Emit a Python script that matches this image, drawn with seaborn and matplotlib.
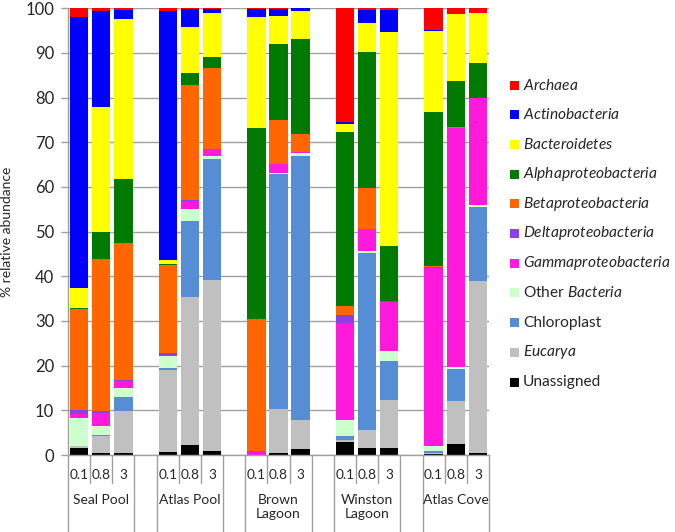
import numpy as np
import pandas as pd
import matplotlib
matplotlib.use("Agg")
import matplotlib.pyplot as plt
import matplotlib.transforms as mtrans
from matplotlib.patches import Rectangle
import seaborn as sns

sns.set_style("white")
plt.rcParams['font.family'] = ['Lato', 'DejaVu Sans']
plt.rcParams['mathtext.fontset'] = 'custom'
plt.rcParams['mathtext.it'] = 'Lato:italic'
plt.rcParams['mathtext.rm'] = 'Lato'

sites = ["Seal Pool", "Atlas Pool", "Brown\nLagoon", "Winston\nLagoon", "Atlas Cove"]
fractions = ["0.1", "0.8", "3"]

# segment values (% relative abundance), 15 bars: site x fraction
unassigned   = [1.5, 0.4, 0.4,  0.6, 2.2, 0.8,  0.0, 0.4, 1.3,  3.0, 1.5, 1.5,  0.2, 2.5, 0.4]
eucarya      = [0.6, 3.8, 9.4,  18.5, 33.2, 38.3,  0.0, 9.9, 6.5,  0.4, 4.1, 10.9,  0.2, 9.5, 38.5]
chloroplast  = [0.0, 0.3, 3.1,  0.3, 16.9, 27.2,  0.0, 52.5, 59.2,  0.9, 39.7, 8.7,  0.4, 7.2, 16.6]
other_bact   = [6.1, 2.1, 2.1,  2.8, 2.7, 0.7,  0.0, 0.3, 0.5,  3.5, 0.3, 2.2,  1.3, 0.6, 0.4]
gamma        = [1.0, 2.9, 1.5,  0.0, 1.8, 1.4,  0.8, 2.1, 0.3,  21.8, 4.9, 11.0,  39.8, 53.4, 24.1]
delta        = [0.9, 0.3, 0.3,  0.6, 0.2, 0.1,  0.0, 0.0, 0.0,  1.8, 0.0, 0.2,  0.1, 0.0, 0.0]
beta         = [22.5, 34.1, 30.7,  19.7, 25.8, 18.2,  29.6, 9.9, 4.0,  2.0, 9.3, 0.0,  0.3, 0.2, 0.0]
alpha        = [0.2, 6.1, 14.2,  0.2, 2.7, 2.4,  42.8, 16.9, 21.4,  38.9, 30.4, 12.3,  34.4, 10.4, 7.7]
bacteroid    = [4.6, 28.0, 35.8,  0.9, 10.4, 9.8,  24.9, 6.3, 6.3,  1.9, 6.6, 47.8,  18.3, 14.9, 11.3]
actino       = [60.7, 21.3, 2.1,  55.7, 4.0, 1.0,  1.8, 1.5, 0.5,  0.3, 2.8, 5.0,  0.1, 0.1, 0.0]
archaea      = [1.9, 0.7, 0.4,  0.7, 0.1, 0.1,  0.1, 0.2, 0.0,  25.5, 0.4, 0.4,  5.1, 1.2, 1.0]

# bottom -> top
layers = [
    ("Unassigned", unassigned, "#000000"),
    ("Eucarya", eucarya, "#C0C0C0"),
    ("Chloroplast", chloroplast, "#558ED5"),
    ("Other Bacteria", other_bact, "#CCFFCC"),
    ("Gammaproteobacteria", gamma, "#FF19DA"),
    ("Deltaproteobacteria", delta, "#8E3FE0"),
    ("Betaproteobacteria", beta, "#FF6600"),
    ("Alphaproteobacteria", alpha, "#007A00"),
    ("Bacteroidetes", bacteroid, "#FFFF00"),
    ("Actinobacteria", actino, "#0000FF"),
    ("Archaea", archaea, "#FF0000"),
]

positions = [g * 4 + k for g in range(len(sites)) for k in range(3)]
df = pd.DataFrame({name: vals for name, vals, _ in layers})
df["pos"] = positions
cum = df[[n for n, _, _ in layers]].cumsum(axis=1)

W, H = 675, 532
fig = plt.figure(figsize=(W / 100, H / 100), dpi=100)
ax = fig.add_axes([68 / W, 1 - 455 / H, (489 - 68) / W, (455 - 8.3) / H])

for name, _, color in reversed(layers):
    sns.barplot(x=df["pos"], y=cum[name], native_scale=True, width=0.83,
                color=color, saturation=1, linewidth=0, errorbar=None, ax=ax)

gray = "#A0A0A0"
ax.set_xlim(-0.5, 18.5)
ax.set_ylim(0, 100)
ax.set_yticks(range(0, 101, 10))
ax.set_xticks([])
ax.set_xlabel("")
ax.set_ylabel("% relative abundance", fontsize=10, labelpad=9)
ax.yaxis.grid(True, color=gray, linewidth=1.0)
ax.set_axisbelow(True)
for s in ["top", "right"]:
    ax.spines[s].set_visible(False)
for s in ["left", "bottom"]:
    ax.spines[s].set_color(gray)
    ax.spines[s].set_linewidth(1.0)
ax.tick_params(axis="y", direction="out", length=5, width=1.0, color=gray,
               labelsize=12, pad=5, left=True)

# category axis (two levels)
tr = mtrans.blended_transform_factory(ax.transData, fig.transFigure)
def fy(p):
    return 1 - p / H

for g, site in enumerate(sites):
    base = g * 4
    for xb in [base - 0.5, base + 2.5]:
        ax.plot([xb, xb], [fy(455), fy(532)], transform=tr, color=gray,
                lw=1.0, clip_on=False)
    for xb in [base + 0.5, base + 1.5]:
        ax.plot([xb, xb], [fy(455), fy(483)], transform=tr, color=gray,
                lw=1.0, clip_on=False)
    for k, fr in enumerate(fractions):
        ax.text(base + k, fy(475), fr, transform=tr, ha="center", va="center",
                fontsize=9.8)
    ax.text(base + 1, fy(494), site, transform=tr, ha="center", va="top",
            fontsize=10, linespacing=1.2)

# legend
legend_labels = {
    "Archaea": r"$\mathit{Archaea}$",
    "Actinobacteria": r"$\mathit{Actinobacteria}$",
    "Bacteroidetes": r"$\mathit{Bacteroidetes}$",
    "Alphaproteobacteria": r"$\mathit{Alphaproteobacteria}$",
    "Betaproteobacteria": r"$\mathit{Betaproteobacteria}$",
    "Deltaproteobacteria": r"$\mathit{Deltaproteobacteria}$",
    "Gammaproteobacteria": r"$\mathit{Gammaproteobacteria}$",
    "Other Bacteria": r"Other $\mathit{Bacteria}$",
    "Chloroplast": "Chloroplast",
    "Eucarya": r"$\mathit{Eucarya}$",
    "Unassigned": "Unassigned",
}
y0, dy = 85, 29.7
for i, (name, _, color) in enumerate(reversed(layers)):
    yc = y0 + i * dy
    fig.patches.append(Rectangle((510 / W, 1 - (yc + 4.5) / H), 9 / W, 9 / H,
                                 transform=fig.transFigure, facecolor=color,
                                 edgecolor="none"))
    fig.text(523 / W, 1 - yc / H, legend_labels[name], ha="left", va="center",
             fontsize=11.2)

fig.savefig("out.png", dpi=100)
